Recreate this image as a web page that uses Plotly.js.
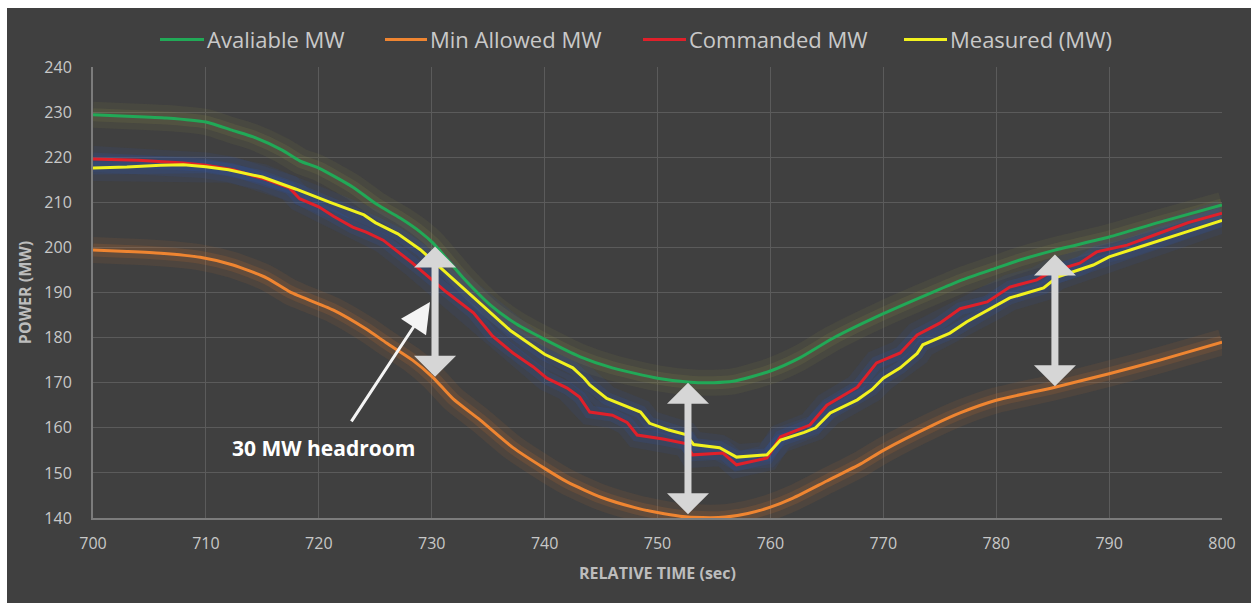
<!DOCTYPE html>
<html>
<head>
<meta charset="utf-8">
<script src="https://cdn.plot.ly/plotly-3.0.1.min.js"></script>
<style>
  html, body { margin: 0; padding: 0; background: #ffffff; }
  #chart { position: absolute; left: 7px; top: 8px; width: 1244px; height: 595px; }
</style>
</head>
<body>
<div id="chart"></div>
<script>
// ---- data ----
const seriesNames = ['Avaliable MW', 'Min Allowed MW', 'Commanded MW', 'Measured (MW)'];
const seriesColors = ['#21a957', '#ef8531', '#e0202a', '#f2f21e'];

const timeAvail = [700, 703, 706.5, 710, 712.4, 714.2, 716.8, 718.3, 720, 723, 725.1, 727.2, 729, 730.1, 732.8, 735.2, 737.5, 740, 743.1, 746, 750, 752.9, 755, 756.7, 760, 762.6, 765.5, 770, 774.4, 777, 780, 782.1, 785.2, 790, 794.5, 800];
const availMW   = [229.4, 229.1, 228.7, 227.8, 225.9, 224.5, 221.5, 219.2, 217.6, 213.4, 209.6, 206.5, 203.4, 201, 193.2, 187.2, 183, 179.6, 175.8, 173.3, 171, 170.1, 170, 170.3, 172.6, 175.5, 179.8, 185.3, 190.1, 192.8, 195.4, 197.2, 199.4, 202.3, 205.6, 209.4];

const timeMin = [700, 703, 706, 709.5, 712.4, 715.4, 717.4, 718.3, 721.3, 724.2, 726, 728.3, 730.1, 731.9, 734.3, 737.2, 740, 742, 745, 748, 750, 752, 754, 756, 758, 760, 762, 765, 768, 770, 774.4, 776.8, 780, 785.2, 790, 794.5, 800];
const minMW   = [199.4, 199.1, 198.7, 197.8, 196.1, 193.2, 190.2, 189.2, 186.1, 181.9, 178.8, 175, 171.2, 166.4, 161.7, 155.6, 151, 148, 144.6, 142.3, 141.2, 140.4, 140.1, 140.2, 141, 142.4, 144.4, 148.2, 152, 155, 160.6, 163.3, 166.1, 169, 172, 175, 179];

const timeCmd = [700, 704, 708, 710, 712.4, 715.4, 717.4, 718.3, 720, 721.3, 723, 724.2, 725.7, 728.3, 731.3, 733.7, 735.4, 737.2, 739, 740.2, 742, 743.1, 744, 746, 747.3, 748.2, 750.5, 752.5, 753.1, 755.8, 757, 759.7, 760.9, 763.5, 765, 767.7, 769.4, 771.5, 773, 775, 776.8, 779.2, 781.2, 783.6, 784.8, 787.4, 788.9, 791.6, 794.5, 797, 800];
const cmdMW   = [219.6, 219.3, 218.7, 218.2, 217.2, 215, 213.2, 210.8, 209, 206.9, 204.5, 203.4, 201.6, 196.5, 190.1, 185.5, 180.3, 176.6, 173.5, 171, 168.8, 166.8, 163.5, 162.8, 161.2, 158.4, 157.5, 156.5, 154, 154.4, 151.8, 153.3, 158, 160.6, 165, 169, 174.4, 176.6, 180.6, 183.2, 186.4, 187.9, 191.2, 192.8, 194.5, 196.5, 199, 200.5, 203.2, 205.5, 207.6];

const timeMeas = [700, 703, 706, 708, 710, 712, 715, 718, 721, 724, 725, 727, 729, 731, 733, 735, 737, 740, 742.5, 743.5, 744, 745.5, 747.5, 748.5, 749.3, 751, 752.5, 753.2, 755.5, 757, 759.7, 760.9, 763, 764, 765.3, 767.7, 769, 770, 771.5, 773, 773.5, 775.9, 777.4, 779.7, 781.2, 784.2, 785.4, 788.6, 790, 792.7, 794.5, 797.4, 800];
const measMW   = [217.6, 217.8, 218.2, 218.3, 217.9, 217.2, 215.6, 212.9, 210, 207.2, 205.5, 203, 199.5, 195, 190.5, 186, 181.5, 176.3, 173.3, 171, 169.5, 166.5, 164.5, 163.5, 161, 159.5, 158.5, 156.3, 155.6, 153.5, 154, 157.3, 159, 160, 163.3, 166.2, 168.5, 171, 173.3, 176.5, 178.4, 181, 183.5, 186.6, 188.8, 191, 193.4, 196.1, 197.9, 200.1, 201.6, 203.9, 206];

// headroom arrows (time, top MW, bottom MW)
const arrowTime   = [730.3, 752.7, 785.2];
const arrowTop    = [200.2, 170, 198.4];
const arrowBottom = [171, 140.5, 168.9];

// callout
const calloutText = '30 MW headroom';
const calloutTextPos = [720.4, 155.6];
const calloutTail = [722.8, 161.1];
const calloutTip  = [729.85, 187.9];

const xTickVals = [700, 710, 720, 730, 740, 750, 760, 770, 780, 790, 800];
const yTickVals = [140, 150, 160, 170, 180, 190, 200, 210, 220, 230, 240];

// ---- traces ----
const xs = [timeAvail, timeMin, timeCmd, timeMeas];
const ys = [availMW, minMW, cmdMW, measMW];
const glowColors = ['rgba(150,150,70,', 'rgba(225,120,40,', 'rgba(40,90,200,', 'rgba(40,90,200,'];
const shapesLine = ['spline', 'spline', 'linear', 'linear'];

const traces = [];
// glows
[1, 0, 2, 3].forEach(i => {
  traces.push({x: xs[i], y: ys[i], type: 'scatter', mode: 'lines', showlegend: false, hoverinfo: 'skip',
    line: {color: glowColors[i] + '0.09)', width: 26, shape: shapesLine[i], smoothing: 0.6}});
  traces.push({x: xs[i], y: ys[i], type: 'scatter', mode: 'lines', showlegend: false, hoverinfo: 'skip',
    line: {color: glowColors[i] + '0.14)', width: 13, shape: shapesLine[i], smoothing: 0.6}});
});
// main lines
[1, 0, 2, 3].forEach(i => {
  traces.push({x: xs[i], y: ys[i], type: 'scatter', mode: 'lines', name: seriesNames[i], showlegend: false,
    line: {color: seriesColors[i], width: 3, shape: shapesLine[i], smoothing: 0.6}});
});

// ---- manual legend (positions in px of the page) ----
const pL = 93, pR = 1222, pT = 67, pB = 518;
const px2x = p => (p - pL) / (pR - pL);
const py2y = p => (pB - p) / (pB - pT);
const legLine = [[160, 204], [385, 427], [643, 686], [904, 947]];
const legY = 39.5;

const shapes = [];
const annotations = [];
seriesNames.forEach((n, i) => {
  shapes.push({type: 'line', xref: 'paper', yref: 'paper', x0: px2x(legLine[i][0]), x1: px2x(legLine[i][1]),
    y0: py2y(legY), y1: py2y(legY), line: {color: seriesColors[i], width: 3}});
  annotations.push({xref: 'paper', yref: 'paper', x: px2x(legLine[i][1] + 1), y: py2y(legY), xanchor: 'left', yanchor: 'middle',
    text: n, showarrow: false, font: {family: 'Open Sans, sans-serif', size: 22, color: '#c9c9c9'}});
});

// headroom arrows
arrowTime.forEach((t, i) => {
  annotations.push({x: t, y: arrowTop[i], ax: t, ay: arrowBottom[i], xref: 'x', yref: 'y', axref: 'x', ayref: 'y',
    text: '', showarrow: true, arrowside: 'end+start', arrowhead: 1, startarrowhead: 1,
    arrowsize: 1, startarrowsize: 1, arrowwidth: 7, arrowcolor: '#d6d6d6', standoff: 0, startstandoff: 0});
});
// callout arrow and text
annotations.push({x: calloutTip[0], y: calloutTip[1], ax: calloutTail[0], ay: calloutTail[1], xref: 'x', yref: 'y', axref: 'x', ayref: 'y',
  text: '', showarrow: true, arrowhead: 2, arrowsize: 2, arrowwidth: 3, arrowcolor: '#f4f4f4', standoff: 0});
annotations.push({x: calloutTextPos[0], y: calloutTextPos[1], xref: 'x', yref: 'y', text: calloutText, showarrow: false,
  xanchor: 'center', yanchor: 'middle', font: {family: 'Open Sans, sans-serif', size: 21, color: '#ffffff', weight: 'bold'}});

const axisCommon = {
  showgrid: true, gridcolor: '#5b5b5b', gridwidth: 1, zeroline: false,
  showline: true, linecolor: '#7c7c7c', linewidth: 2, ticks: '',
  tickfont: {family: 'Open Sans, sans-serif', size: 16, color: '#c8c8c8'}
};

const layout = {
  width: 1244, height: 595,
  margin: {l: 86, r: 29, t: 59, b: 85},
  paper_bgcolor: '#404040', plot_bgcolor: '#404040',
  showlegend: false,
  xaxis: Object.assign({}, axisCommon, {
    range: [700, 800], tickvals: xTickVals, ticklabelstandoff: 10,
    title: {text: 'RELATIVE TIME (sec)', standoff: 15, font: {family: 'Open Sans, sans-serif', size: 16, color: '#bdbdbd', weight: 'bold'}}
  }),
  yaxis: Object.assign({}, axisCommon, {
    range: [140, 240], tickvals: yTickVals, ticklabelstandoff: 16,
    title: {text: 'POWER (MW)', standoff: 9, font: {family: 'Open Sans, sans-serif', size: 16, color: '#bdbdbd', weight: 'bold'}}
  }),
  shapes: shapes,
  annotations: annotations
};

Plotly.newPlot('chart', traces, layout, {displayModeBar: false, staticPlot: true});
</script>
</body>
</html>
